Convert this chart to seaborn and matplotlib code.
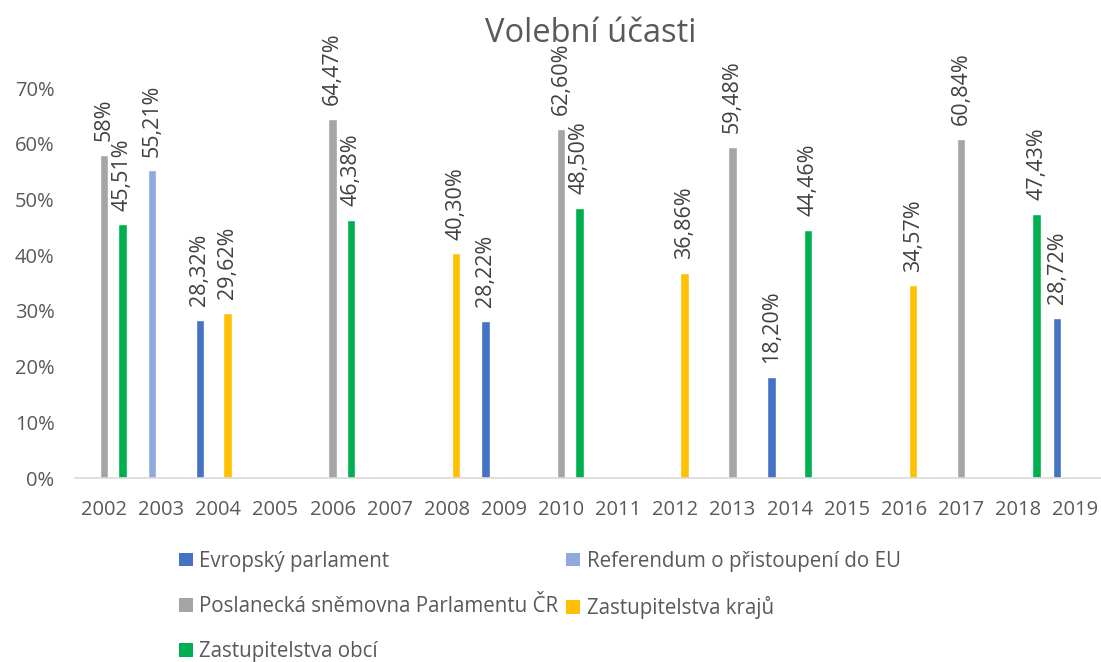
import matplotlib
matplotlib.use("Agg")
import matplotlib.pyplot as plt
import matplotlib.ticker as mticker
from matplotlib.patches import Patch
import seaborn as sns
import pandas as pd

# ---- data ----
years = [str(y) for y in range(2002, 2020)]
series_names = ["Evropský parlament", "Referendum o přistoupení do EU",
                "Poslanecká sněmovna Parlamentu ČR", "Zastupitelstva krajů",
                "Zastupitelstva obcí"]
colors = ["#4472C4", "#8FAADC", "#A5A5A5", "#FFC000", "#00B050"]

ep_years = ["2004", "2009", "2014", "2019"]
ep_vals = [28.32, 28.22, 18.20, 28.72]
ref_years = ["2003"]
ref_vals = [55.21]
psp_years = ["2002", "2006", "2010", "2013", "2017"]
psp_vals = [58, 64.47, 62.60, 59.48, 60.84]
kraje_years = ["2004", "2008", "2012", "2016"]
kraje_vals = [29.62, 40.30, 36.86, 34.57]
obce_years = ["2002", "2006", "2010", "2014", "2018"]
obce_vals = [45.51, 46.38, 48.50, 44.46, 47.43]

yticks = [0, 10, 20, 30, 40, 50, 60, 70]
title = "Volební účasti"

rows = []
for name, ys, vs in zip(series_names,
                        [ep_years, ref_years, psp_years, kraje_years, obce_years],
                        [ep_vals, ref_vals, psp_vals, kraje_vals, obce_vals]):
    for y, v in zip(ys, vs):
        rows.append({"rok": y, "hodnota": v, "serie": name})
df = pd.DataFrame(rows)

# ---- style ----
sns.set_theme(style="white")
FONT = ["Open Sans", "DejaVu Sans"]
plt.rcParams["font.family"] = FONT
TXT = "#595959"

fig = plt.figure(figsize=(11.01, 6.62), dpi=100)
W, H = 1101, 662
ax = fig.add_axes([75.4 / W, 1 - 478 / H, 1028.6 / W, 390 / H])

sns.barplot(data=df, x="rok", y="hodnota", hue="serie", order=years,
            hue_order=series_names, palette=colors, width=0.8, gap=0.06,
            errorbar=None, legend=False, ax=ax, saturation=1)

def fmt(v):
    if float(v).is_integer():
        return f"{int(v)}%"
    return f"{v:.2f}".replace(".", ",") + "%"

for cont in ax.containers:
    ax.bar_label(cont, labels=[fmt(v) for v in cont.datavalues], rotation=90,
                 padding=10, fontsize=15.5, color="#404040")

ax.set_ylim(0, 70)
ax.set_yticks(yticks)
ax.yaxis.set_major_formatter(mticker.FuncFormatter(lambda v, p: f"{int(v)}%"))
ax.set_xlabel("")
ax.set_ylabel("")
ax.tick_params(axis="both", length=0, labelsize=14.5, labelcolor=TXT)
ax.tick_params(axis="y", pad=15)
ax.tick_params(axis="x", pad=16)
for s in ["top", "right", "left"]:
    ax.spines[s].set_visible(False)
ax.spines["bottom"].set_color("#D9D9D9")
ax.spines["bottom"].set_linewidth(1.2)
ax.grid(False)

fig.text(591 / W, 1 - 34 / H, title, ha="center", va="center",
         fontsize=23.5, color=TXT)

handles = [Patch(facecolor=c, edgecolor="none") for c in colors]
order = [0, 2, 4, 1, 3]
fig.legend([handles[i] for i in order], [series_names[i] for i in order],
           ncol=2, loc="upper left", bbox_to_anchor=(179 / W, 1 - 551 / H),
           frameon=False, fontsize=14.8, labelcolor=TXT, handlelength=0.68,
           handleheight=0.63, handletextpad=0.3, labelspacing=1.17,
           columnspacing=0.4, borderpad=0, borderaxespad=0)

fig.savefig("out.png", dpi=100)
